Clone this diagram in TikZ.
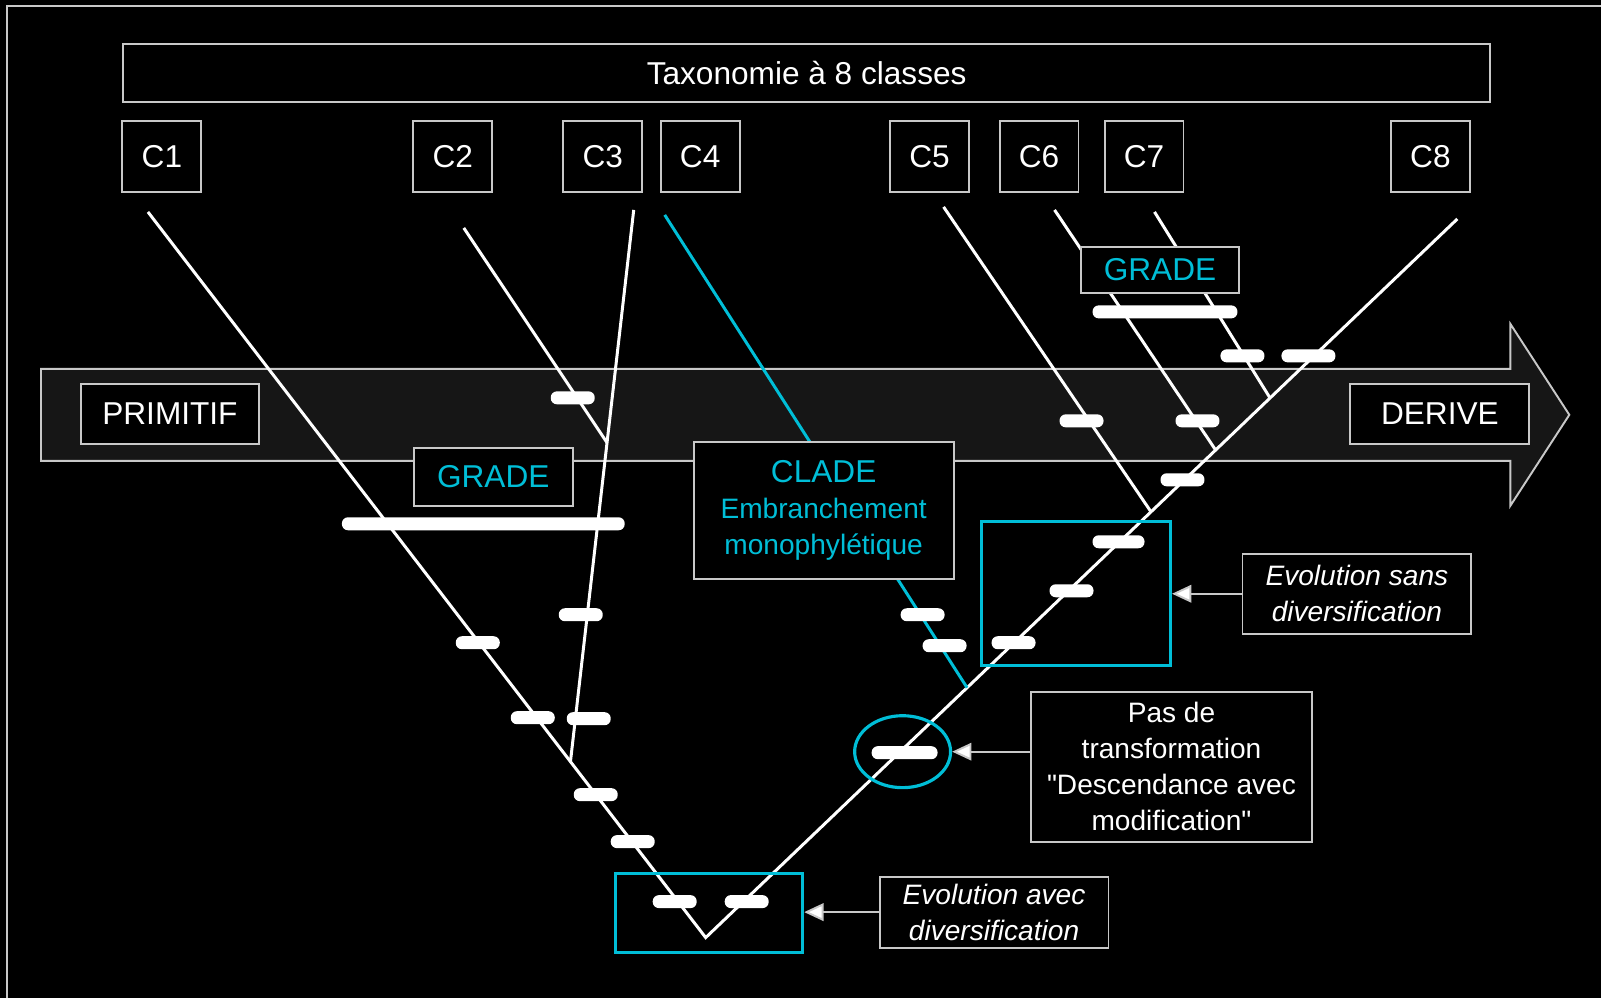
\documentclass[tikz,border=0pt]{standalone}
\usepackage{fontspec}
\setmainfont{Liberation Sans}
\usepackage{tikz}
\usetikzlibrary{shapes.geometric}
\usetikzlibrary{arrows.meta}

\definecolor{cladecyan}{RGB}{0,190,215}
\definecolor{framegray}{RGB}{200,200,200}
\definecolor{bandgray}{RGB}{22,22,22}

\tikzset{
    taxbox/.style={draw=framegray,line width=1.1pt,fill=black,text=white,inner sep=0pt,
        font=\fontsize{18}{22}\selectfont},
    clsbox/.style={taxbox,minimum width=1.58cm,minimum height=1.42cm},
    notebox/.style={taxbox,align=center,font=\fontsize{16}{20.4}\selectfont},
    cyanbox/.style={draw=cladecyan,line width=1.8pt,inner sep=0pt},
    branch/.style={white,line width=1.7pt},
    trait/.style={fill=white,rounded corners=3.5pt,inner sep=0pt,
        minimum width=0.88cm,minimum height=0.26cm},
    pointer/.style={draw=framegray,line width=1.1pt,-{Triangle[length=11pt,width=10pt,fill=white]}}
}

\begin{document}
\begin{tikzpicture}[x=0.02cm,y=-0.02cm]
    \fill[black] (0,0) rectangle (1602,998);
    \draw[framegray,line width=0.8pt] (7,998) -- (7,6) -- (1602,6);
    \draw[framegray,fill=bandgray,line width=1.1pt] (41,369) -- (1511,369) -- (1511,324)
        -- (1570,415) -- (1511,506) -- (1511,461) -- (41,461) -- cycle;

    \coordinate (root) at (706,938);
    \coordinate (t1) at (148,212);
    \coordinate (t2) at (464,228);
    \coordinate (t3) at (634,210);
    \coordinate (t4) at (665,215);
    \coordinate (t5) at (944,207);
    \coordinate (t6) at (1055,210);
    \coordinate (t7) at (1155,212);
    \coordinate (t8) at (1458,219);
    \coordinate (j3) at (570.7,762);
    \coordinate (j2) at (607.4,443);
    \coordinate (j4) at (967.5,688);
    \coordinate (j5) at (1151.5,512);
    \coordinate (j6) at (1216,450);
    \coordinate (j7) at (1270.5,398);

    \draw[branch] (t1) -- (root) -- (t8);
    \draw[branch] (j3) -- (t3);
    \draw[branch] (j2) -- (t2);
    \draw[branch,cladecyan] (j4) -- (t4);
    \draw[branch] (j5) -- (t5);
    \draw[branch] (j6) -- (t6);
    \draw[branch] (j7) -- (t7);

    \path (807,73) node[taxbox,minimum width=27.36cm,minimum height=1.16cm] (taxo) {Taxonomie à 8 classes};
    \path (162,157) node[clsbox] (c1) {C1};
    \path (453,157) node[clsbox] (c2) {C2};
    \path (603,157) node[clsbox] (c3) {C3};
    \path (700.5,157) node[clsbox] (c4) {C4};
    \path (930,157) node[clsbox] (c5) {C5};
    \path (1039.5,157) node[clsbox] (c6) {C6};
    \path (1144.5,157) node[clsbox] (c7) {C7};
    \path (1431,157) node[clsbox] (c8) {C8};

    \path (170,414) node[taxbox,minimum width=3.56cm,minimum height=1.2cm] (prim) {PRIMITIF};
    \path (1440.5,414) node[taxbox,minimum width=3.58cm,minimum height=1.2cm] (deri) {DERIVE};
    \path (493.5,477) node[taxbox,text=cladecyan,minimum width=3.18cm,minimum height=1.16cm] (grade1) {GRADE};
    \path (1160.5,270) node[taxbox,text=cladecyan,minimum width=3.18cm,minimum height=0.92cm] (grade2) {GRADE};
    \path (824,510.5) node[notebox,text=cladecyan,minimum width=5.2cm,minimum height=2.74cm] (clade)
        {{\fontsize{18}{22}\selectfont CLADE}\\Embranchement\\monophylétique};

    \path (1357.5,594) node[notebox,minimum width=4.58cm,minimum height=1.6cm] (evs)
        {\itshape Evolution sans\\\itshape diversification};
    \path (1172,767) node[notebox,minimum width=5.64cm,minimum height=3cm] (pas)
        {Pas de\\transformation\\\textquotedbl Descendance avec\\modification\textquotedbl};
    \path (994.5,912.5) node[notebox,minimum width=4.58cm,minimum height=1.42cm] (eva)
        {\itshape Evolution avec\\\itshape diversification};

    \path (483.5,524) node[trait,minimum width=5.66cm] (gbar1) {};
    \path (1165.5,312) node[trait,minimum width=2.9cm] (gbar2) {};
    \path (573,398) node[trait] (m1) {};
    \path (478,643) node[trait] (m2) {};
    \path (533,718) node[trait] (m3) {};
    \path (596,795) node[trait] (m4) {};
    \path (633,842) node[trait] (m5) {};
    \path (675,902) node[trait] (m6) {};
    \path (581,615) node[trait] (m7) {};
    \path (589,719) node[trait] (m8) {};
    \path (747,902) node[trait] (m9) {};
    \path (905,753) node[trait,minimum width=1.32cm] (m10) {};
    \path (1014,643) node[trait] (m11) {};
    \path (1072,591) node[trait] (m12) {};
    \path (1119,542) node[trait,minimum width=1.04cm] (m13) {};
    \path (923,615) node[trait] (m14) {};
    \path (945,646) node[trait] (m15) {};
    \path (1183,480) node[trait] (m16) {};
    \path (1082,421) node[trait] (m17) {};
    \path (1198,421) node[trait] (m18) {};
    \path (1243,356) node[trait] (m19) {};
    \path (1309,356) node[trait,minimum width=1.08cm] (m20) {};

    \path (1076.5,594) node[cyanbox,minimum width=3.78cm,minimum height=2.88cm] (sans) {};
    \path (903,752) node[cyanbox,ellipse,minimum width=1.92cm,minimum height=1.44cm] (circ) {};
    \path (709.5,913.5) node[cyanbox,minimum width=3.74cm,minimum height=1.58cm] (avec) {};

    \draw[pointer] (evs.west) -- (evs.west -| sans.east);
    \draw[pointer] (pas.west |- circ.east) -- (circ.east);
    \draw[pointer] (eva.west) -- (eva.west -| avec.east);
\end{tikzpicture}
\end{document}
